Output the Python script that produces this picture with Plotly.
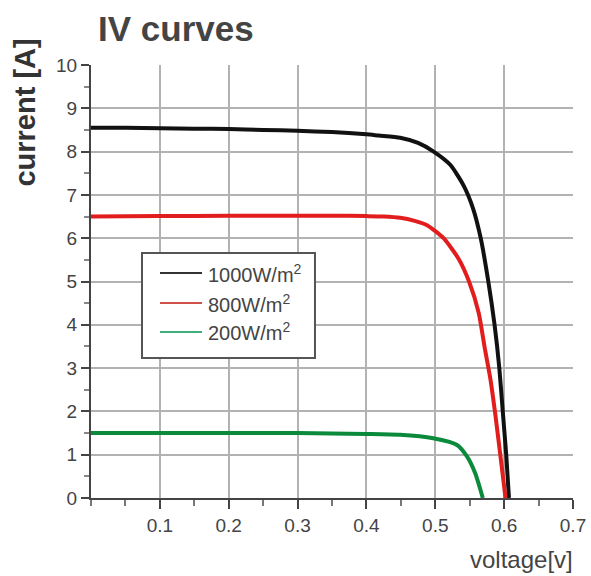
import plotly.graph_objects as go

# ---- data ----
v_1000 = [0.0, 0.05, 0.1, 0.15, 0.2, 0.25, 0.3, 0.35, 0.4, 0.418, 0.449, 0.475, 0.4976,
          0.522, 0.541, 0.555, 0.566, 0.577, 0.586, 0.593, 0.598, 0.603, 0.607]
i_1000 = [8.55, 8.55, 8.54, 8.53, 8.52, 8.50, 8.48, 8.45, 8.40, 8.37, 8.32, 8.20, 8.00,
          7.69, 7.22, 6.68, 6.00, 5.00, 4.01, 3.00, 2.00, 1.00, 0.0]

v_800 = [0.0, 0.1, 0.2, 0.3, 0.35, 0.4, 0.425, 0.449, 0.47, 0.488, 0.512, 0.534, 0.549,
         0.563, 0.572, 0.58, 0.587, 0.594, 0.602]
i_800 = [6.50, 6.51, 6.52, 6.52, 6.52, 6.51, 6.50, 6.47, 6.40, 6.30, 6.00, 5.52, 5.00,
         4.28, 3.45, 2.75, 1.95, 1.05, 0.0]

v_200 = [0.0, 0.1, 0.2, 0.3, 0.4, 0.449, 0.497, 0.531, 0.546, 0.558, 0.569]
i_200 = [1.50, 1.50, 1.50, 1.50, 1.48, 1.46, 1.38, 1.23, 0.96, 0.57, 0.0]

series_names = ["1000W/m<sup>2</sup>", "800W/m<sup>2</sup>", "200W/m<sup>2</sup>"]
series_colors = ["#111111", "#e21d1d", "#0b8a3c"]
legend_colors = ["#333333", "#d0504a", "#3fae7a"]

x_ticks = [0.1, 0.2, 0.3, 0.4, 0.5, 0.6, 0.7]
x_tick_labels = ["0.1", "0.2", "0.3", "0.4", "0.5", "0.6", "0.7"]
y_ticks = list(range(0, 11))

title_text = "IV curves"
y_title = "current [A]"
x_title = "voltage[v]"

FONT = "Liberation Sans, Arial, Helvetica, sans-serif"
TXT = "#444444"

fig = go.Figure()
for vs, cs, col in zip([v_1000, v_800, v_200], [i_1000, i_800, i_200], series_colors):
    fig.add_trace(go.Scatter(x=vs, y=cs, mode="lines",
                             line=dict(color=col, width=4, shape="spline", smoothing=0.6),
                             showlegend=False, hoverinfo="skip"))

fig.update_layout(
    width=591, height=576,
    margin=dict(l=91, r=18, t=65, b=78, autoexpand=False),
    paper_bgcolor="white", plot_bgcolor="white",
    font=dict(family=FONT, color=TXT, size=19),
    showlegend=False,
)
fig.update_xaxes(
    range=[0, 0.7], tickvals=x_ticks, ticktext=x_tick_labels, automargin=False,
    showgrid=True, gridcolor="#b2b2b2", gridwidth=2,
    showline=True, linecolor="#444444", linewidth=2, zeroline=False,
    ticks="outside", ticklen=9, tickwidth=2, tickcolor="#444444",
    tickfont=dict(size=19, color=TXT),
    minor=dict(dtick=0.05, tick0=0.05, ticks="outside", ticklen=6, tickwidth=1.5,
               tickcolor="#777777", showgrid=False),
    fixedrange=True,
)
fig.update_yaxes(
    range=[0, 10], tickvals=y_ticks, automargin=False,
    showgrid=True, gridcolor="#b2b2b2", gridwidth=2,
    showline=True, linecolor="#444444", linewidth=2, zeroline=False,
    ticks="outside", ticklen=8, tickwidth=2, tickcolor="#444444",
    tickfont=dict(size=19, color=TXT),
    minor=dict(dtick=0.5, tick0=0.5, ticks="outside", ticklen=5, tickwidth=1.5,
               tickcolor="#888888", showgrid=False),
    fixedrange=True,
)

annotations = [
    dict(text="<b>" + title_text + "</b>", xref="paper", yref="paper",
         x=0.010, y=1.085, xanchor="left", yanchor="middle", showarrow=False,
         font=dict(size=35, color=TXT, family=FONT)),
    dict(text="<b>" + y_title + "</b>", xref="paper", yref="paper",
         x=-0.137, y=0.89, xanchor="center", yanchor="middle", textangle=-90,
         showarrow=False, font=dict(size=29, color="#333333", family=FONT)),
    dict(text=x_title, xref="paper", yref="paper",
         x=0.893, y=-0.143, xanchor="center", yanchor="middle", showarrow=False,
         font=dict(size=24, color=TXT, family=FONT)),
]

# ---- legend box (drawn manually to match the thin sample lines) ----
shapes = [dict(type="rect", xref="paper", yref="paper",
               x0=0.1058, x1=0.4647, y0=0.3233, y1=0.5658,
               line=dict(color="#555555", width=2), fillcolor="white", layer="above")]
row_y = [0.5196, 0.4503, 0.3834]
for name, col, ry in zip(series_names, legend_colors, row_y):
    shapes.append(dict(type="line", xref="paper", yref="paper",
                       x0=0.1432, x1=0.2303, y0=ry, y1=ry,
                       line=dict(color=col, width=2), layer="above"))
    annotations.append(dict(text=name, xref="paper", yref="paper",
                            x=0.238, y=ry, xanchor="left", yanchor="middle",
                            showarrow=False, font=dict(size=20, color=TXT, family=FONT)))

fig.update_layout(annotations=annotations, shapes=shapes)
fig.write_html("out.html")
